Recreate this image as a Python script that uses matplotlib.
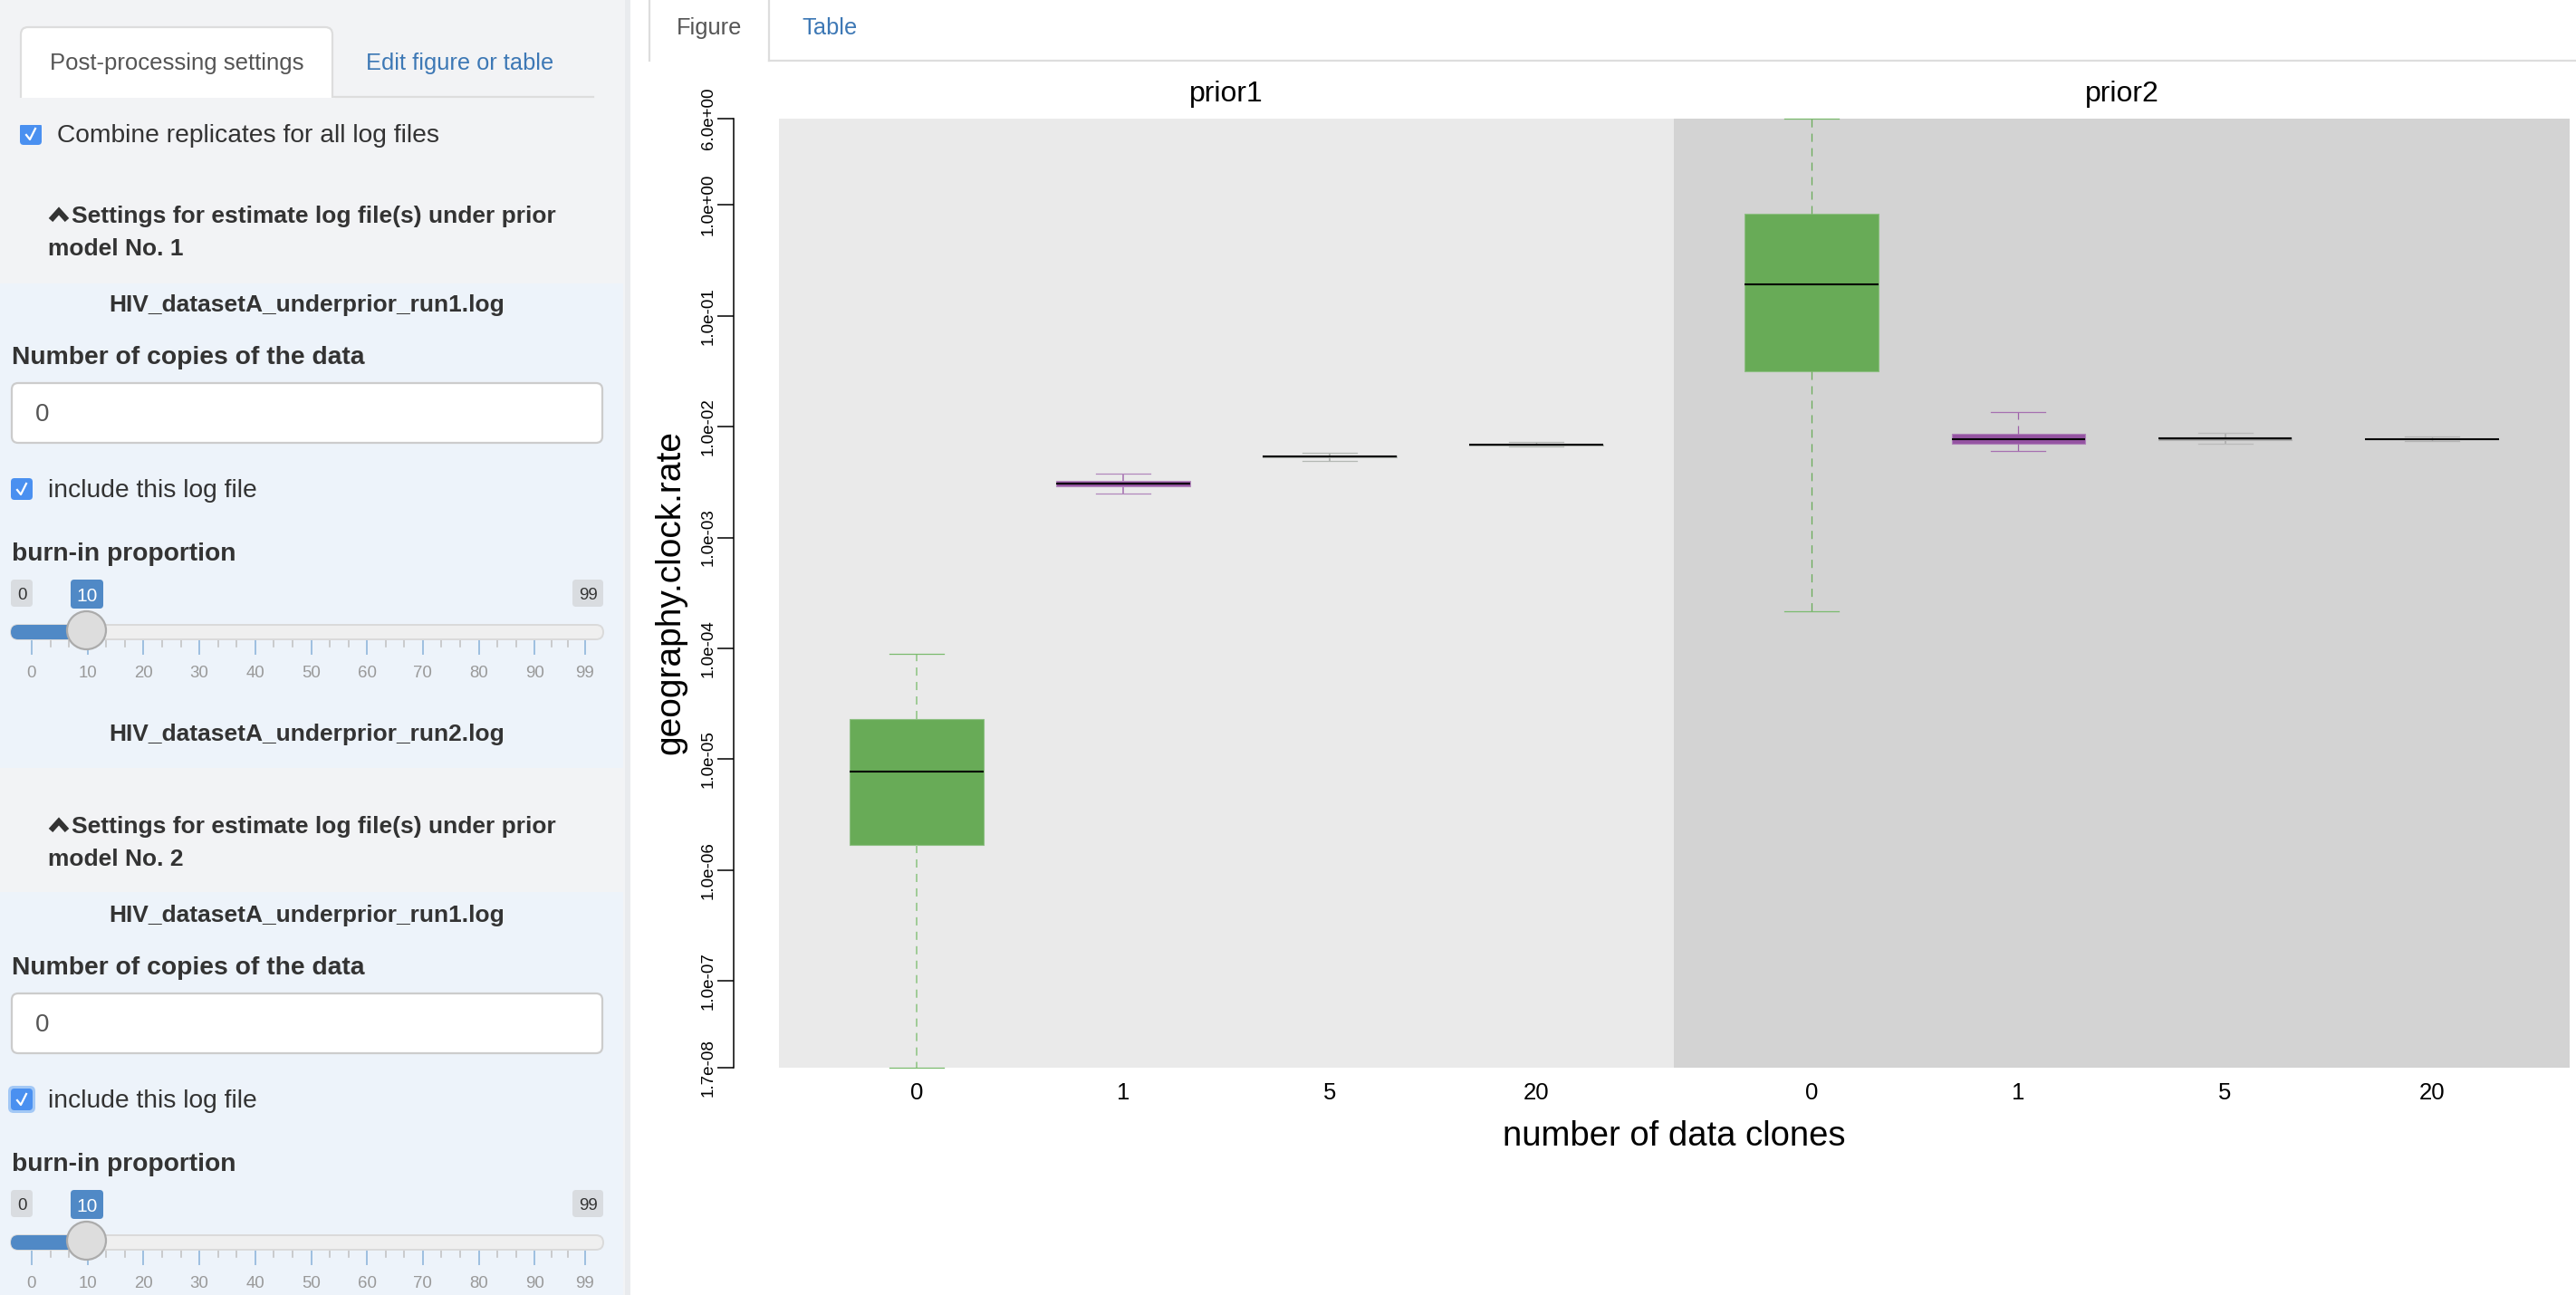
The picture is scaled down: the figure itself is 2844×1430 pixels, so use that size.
import matplotlib
matplotlib.use('Agg')
import matplotlib.pyplot as plt
from matplotlib.patches import FancyBboxPatch, Rectangle, Ellipse

plt.rcParams['font.family'] = ['Liberation Sans', 'DejaVu Sans']
plt.rcParams['lines.scale_dashes'] = False

# values
clone_labels = ['0', '1', '5', '20']
panel_titles = ['prior1', 'prior2']
prior1_whislo = [1.66e-8, 2.50e-3, 4.93e-3, 6.59e-3]
prior1_q1 = [1.68e-6, 2.87e-3, 5.26e-3, 6.81e-3]
prior1_med = [7.73e-6, 3.06e-3, 5.35e-3, 6.88e-3]
prior1_q3 = [2.29e-5, 3.26e-3, 5.45e-3, 6.93e-3]
prior1_whishi = [8.87e-5, 3.74e-3, 5.77e-3, 7.23e-3]
prior2_whislo = [2.16e-4, 6.07e-3, 7.01e-3, 7.38e-3]
prior2_q1 = [0.0314, 7.01e-3, 7.62e-3, 7.64e-3]
prior2_med = [0.192, 7.70e-3, 7.80e-3, 7.70e-3]
prior2_q3 = [0.833, 8.57e-3, 7.93e-3, 7.76e-3]
prior2_whishi = [6.0, 0.01346, 8.79e-3, 8.10e-3]
y_ticks = [6.0, 1.0, 1e-1, 1e-2, 1e-3, 1e-4, 1e-5, 1e-6, 1e-7, 1.66e-8]

slider_major = [0, 10, 20, 30, 40, 50, 60, 70, 80, 90, 99]

W, H = 2844, 1430
TEXT = '#333333'
LINK = '#3D78B5'
SIDEBAR = '#F2F3F5'
PANEL = '#EDF3FA'
BODY = 20.3   # form labels
HEAD = 19.0   # collapsible headers and file names

fig = plt.figure(figsize=(W / 100, H / 100), dpi=100, facecolor='white')

# page chrome drawn in pixel coordinates
ui = fig.add_axes([0, 0, 1, 1])
ui.set_xlim(0, W)
ui.set_ylim(H, 0)
ui.axis('off')


def round_box(x0, y0, x1, y1, r, fc, ec='none', lw=0, z=2):
    p = FancyBboxPatch((x0, y0), x1 - x0, y1 - y0,
                       boxstyle=f'round,pad=0,rounding_size={r}',
                       fc=fc, ec=ec, lw=lw, zorder=z)
    ui.add_patch(p)


def label(x, y, s, size=18.3, color=TEXT, weight='normal', ha='left'):
    ui.text(x, y, s, fontsize=size, color=color, fontweight=weight,
            ha=ha, va='baseline', zorder=6)


def checkbox(x0, y0, y1):
    round_box(x0, y0, x0 + 24, y1, 4, '#4A90F0')
    ui.plot([x0 + 7, x0 + 11, x0 + 17], [y0 + 13, y0 + 18, y0 + 6],
            color='white', lw=1.6, zorder=5)


def slider(dy):
    # min, value and max badges
    round_box(12, 640 + dy, 36, 670 + dy, 4, '#D9DCE0')
    round_box(632, 640 + dy, 666, 670 + dy, 4, '#D9DCE0')
    round_box(78, 640 + dy, 114, 672 + dy, 4, '#5089C6')
    label(24, 662 + dy, '0', 13.4, ha='center')
    label(649, 662 + dy, '99', 13.4, ha='center')
    label(96, 664 + dy, '10', 15, 'white', ha='center')
    # track
    round_box(12, 690 + dy, 666, 706 + dy, 8, '#EFEFEF', '#DADADA', 1.4)
    round_box(12, 690 + dy, 96, 706 + dy, 8, '#5089C6')
    # ticks and numbers under the track
    for i, v in enumerate(slider_major):
        x = 35 + 6.17 * v
        ui.plot([x, x], [706 + dy, 722 + dy], color='#9DBFE0', lw=1.4, zorder=1.5)
        label(x, 748 + dy, str(v), 13.4, '#999999', ha='center')
        if i < len(slider_major) - 1:
            step = (slider_major[i + 1] - v) / 3
            for k in (1, 2):
                xm = 35 + 6.17 * (v + k * step)
                ui.plot([xm, xm], [706 + dy, 714 + dy], color='#C4C4C4', lw=1.2, zorder=1.5)
    ui.add_patch(Ellipse((95.5, 696 + dy), 43, 42, fc='#DDDDDD', ec='#ABABAB', lw=1.6, zorder=4))


def section(dy, number):
    ui.plot([56, 65, 74], [243 + dy, 233 + dy, 243 + dy], color=TEXT, lw=4.4,
            solid_joinstyle='miter', solid_capstyle='butt', zorder=5)
    label(79, 246 + dy, 'Settings for estimate log file(s) under prior', HEAD, weight='bold')
    label(53, 282 + dy, f'model No. {number}', HEAD, weight='bold')
    label(339, 344 + dy, 'HIV_datasetA_underprior_run1.log', HEAD, weight='bold', ha='center')
    label(13, 402 + dy, 'Number of copies of the data', BODY, weight='bold')
    round_box(13, 423 + dy, 665, 489 + dy, 7, 'white', '#CCCCCC', 1.6)
    label(39, 465 + dy, '0', 20, '#555555')
    label(53, 549 + dy, 'include this log file', BODY)
    label(13, 619 + dy, 'burn-in proportion', BODY, weight='bold')
    slider(dy)


# sidebar and its blue well panels
ui.add_patch(Rectangle((0, 0), 690, H, fc=SIDEBAR, ec='none', zorder=0))
ui.add_patch(Rectangle((690, 0), 6, H, fc='#E9EBEE', ec='none', zorder=0))
ui.add_patch(Rectangle((0, 313), 688, 535, fc=PANEL, ec='none', zorder=0.5))
ui.add_patch(Rectangle((0, 985), 688, H - 985, fc=PANEL, ec='none', zorder=0.5))

# sidebar tabs
ui.plot([367, 655], [107, 107], color='#DDDDDD', lw=1.6, zorder=1)
round_box(23, 30, 367, 130, 8, 'white', '#DDDDDD', 1.6)
ui.add_patch(Rectangle((20, 108), 350, 30, fc=SIDEBAR, ec='none', zorder=3))
label(55, 77, 'Post-processing settings', 18.5, '#555555')
label(404, 77, 'Edit figure or table', color=LINK)

checkbox(22, 136, 160)
label(63, 157, 'Combine replicates for all log files', BODY)

section(0, 1)
checkbox(12, 528, 552)
label(339, 818, 'HIV_datasetA_underprior_run2.log', HEAD, weight='bold', ha='center')
section(674, 2)
round_box(9, 1199, 39, 1229, 6, '#A3C8F5', z=1.8)
checkbox(12, 1202, 1226)

# main area tabs
ui.plot([717, 717], [0, 67], color='#DDDDDD', lw=1.6)
ui.plot([849, 849], [0, 67], color='#DDDDDD', lw=1.6)
ui.plot([849, W], [67, 67], color='#DDDDDD', lw=1.6)
label(783, 38, 'Figure', color='#555555', ha='center')
label(885, 38, 'Table', color=LINK)

# chart panels, same pixel layout as the screenshot
top, bottom = 131, 1178.7
x0, xm, x1 = 860, 1848, 2837


def panel(left, right, bg):
    return fig.add_axes([left / W, 1 - bottom / H, (right - left) / W, (bottom - top) / H],
                        facecolor=bg, yscale='log')


ax1 = panel(x0, xm, '#EAEAEA')
ax2 = panel(xm, x1, '#D3D3D3')

# colours per box: fill, edge, whisker, cap, whisker width
GREEN = '#68AB57'
styles1 = [(GREEN, '#8DBF82', '#9FCC96', '#7BBB6E', 1.4),
           ('#9554A2', '#B48CBD', '#B287BB', '#B287BB', 1.4),
           ('#8C8C8C', '#B4B8B4', '#B4B8B4', '#B4B8B4', 1.4),
           ('#8C8C8C', '#B4B8B4', '#B4B8B4', '#B4B8B4', 1.0)]
styles2 = [(GREEN, '#8DBF82', GREEN, '#7BBB6E', 0.9),
           ('#9554A2', '#AE80B8', '#9C5FA8', '#A670B1', 0.9),
           ('#8C8C8C', '#B2B2B2', '#B2B2B2', '#BBBBBB', 1.4),
           ('#8C8C8C', '#B2B2B2', '#B2B2B2', '#B2B2B2', 1.0)]


def draw_boxes(ax, lo, q1, med, q3, hi, styles):
    for i, st in enumerate(styles):
        stats = [dict(whislo=lo[i], q1=q1[i], med=med[i], q3=q3[i], whishi=hi[i], fliers=[])]
        parts = ax.bxp(stats, positions=[i + 1], widths=0.647, capwidths=0.263,
                       patch_artist=True, showfliers=False, manage_ticks=False,
                       boxprops=dict(facecolor=st[0], edgecolor=st[1], linewidth=0.8),
                       medianprops=dict(color='black', linewidth=1.5, solid_capstyle='butt'),
                       whiskerprops=dict(color=st[2], linewidth=st[4], linestyle=(0, (6.5, 5))),
                       capprops=dict(color=st[3], linewidth=0.9))
        for group in parts.values():
            for artist in group:
                artist.set_clip_on(False)


draw_boxes(ax1, prior1_whislo, prior1_q1, prior1_med, prior1_q3, prior1_whishi, styles1)
draw_boxes(ax2, prior2_whislo, prior2_q1, prior2_med, prior2_q3, prior2_whishi, styles2)

for ax, title in zip((ax1, ax2), panel_titles):
    ax.set_xlim(0.333, 4.667)
    ax.set_ylim(y_ticks[-1], y_ticks[0])
    ax.set_xticks(range(1, 5))
    ax.set_xticklabels(clone_labels, fontsize=18.5)
    ax.tick_params(axis='x', length=0, pad=11.5)
    ax.minorticks_off()
    for s in ('top', 'right', 'bottom', 'left'):
        ax.spines[s].set_visible(False)
    ax.set_title(title, fontsize=23, pad=14)

ax2.set_yticks([])
ax2.tick_params(axis='y', which='both', left=False, labelleft=False)

# detached R style y axis
ax1.spines['left'].set_visible(True)
ax1.spines['left'].set_position(('outward', 36))
ax1.spines['left'].set_linewidth(1.1)
ax1.set_yticks(y_ticks)
ax1.set_yticklabels([f'{v:.1e}' for v in y_ticks], fontsize=13.5, rotation=90, va='center')
ax1.tick_params(axis='y', which='major', length=13, width=1.1, pad=1)
ax1.minorticks_off()

fig.text(xm / W, 1 - 1265 / H, 'number of data clones', fontsize=27.5, ha='center', va='baseline')
fig.text(740 / W, 1 - 654 / H, 'geography.clock.rate', fontsize=28, rotation=90, ha='center', va='center')

fig.savefig('out.png', dpi=100)
